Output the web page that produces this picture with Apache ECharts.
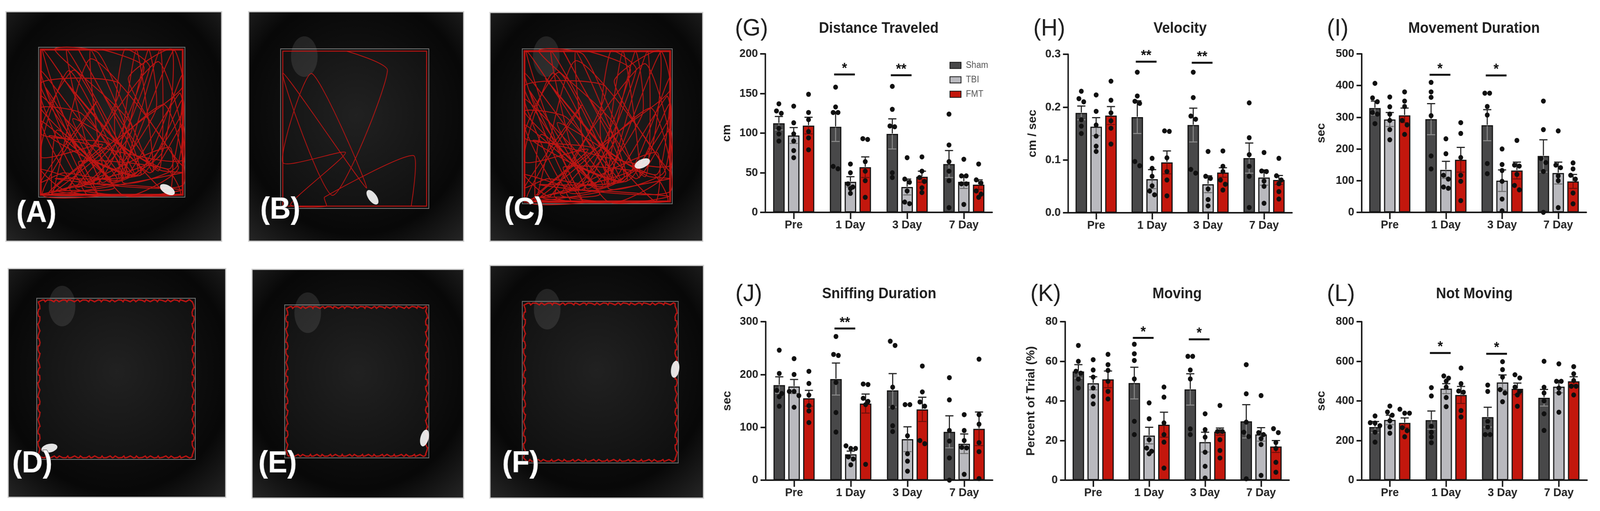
<!DOCTYPE html>
<html>
<head>
<meta charset="utf-8">
<script src="https://cdn.jsdelivr.net/npm/echarts@6.0.0/dist/echarts.min.js"></script>
<style>
  html, body { margin: 0; padding: 0; background: #fff; overflow: hidden; }
  #chart { width: 4317px; height: 1309px; transform-origin: 0 0; }
</style>
</head>
<body>
<div id="chart"></div>
<script>
const categories = ['Pre', '1 Day', '3 Day', '7 Day'];
const groupNames = ['Sham', 'TBI', 'FMT'];

// (G) Distance Traveled, cm. rows = Sham, TBI, FMT
const gMean = [[112.5, 108, 99, 61], [97, 38.5, 32, 38.6], [109.5, 57, 45, 35]];
const gSem = [[8.5, 18.5, 19, 17], [10, 6.5, 10, 8.4], [10.5, 13, 7, 6]];
const gDots = [
  [[137, 128, 125, 106, 99, 90], [158, 133, 126, 126, 58, 55], [159, 130, 109, 108, 50, 44], [124, 85, 64, 52, 40, 6]],
  [[134, 113, 99, 90, 78, 69], [61, 50, 36, 32, 30, 24], [69, 42, 38, 27, 13, 11], [67, 46, 46, 36, 36, 10]],
  [[149, 126, 117, 102, 94, 79], [93, 92, 64, 52, 40, 19], [70, 52, 44, 39, 31, 25], [61, 41, 37, 27, 23, 19]]
];
const gSig = [[1, 174, '*'], [2, 173, '**']];

// (H) Velocity, cm / sec
const hMean = [[0.189, 0.181, 0.166, 0.1035], [0.163, 0.0636, 0.054, 0.0666], [0.184, 0.0953, 0.0762, 0.062]];
const hSem = [[0.013, 0.031, 0.032, 0.0285], [0.017, 0.018, 0.016, 0.0144], [0.017, 0.0217, 0.009, 0.0085]];
const hDots = [
  [[0.230, 0.216, 0.210, 0.176, 0.164, 0.150], [0.266, 0.221, 0.211, 0.207, 0.097, 0.089], [0.266, 0.218, 0.183, 0.177, 0.082, 0.075], [0.208, 0.142, 0.110, 0.088, 0.069, 0.010]],
  [[0.223, 0.192, 0.166, 0.145, 0.126, 0.116], [0.103, 0.084, 0.069, 0.051, 0.041, 0.034], [0.116, 0.069, 0.065, 0.045, 0.025, 0.013], [0.114, 0.079, 0.078, 0.060, 0.050, 0.018]],
  [[0.249, 0.213, 0.189, 0.174, 0.160, 0.130], [0.155, 0.154, 0.104, 0.078, 0.062, 0.032], [0.117, 0.088, 0.078, 0.062, 0.054, 0.043], [0.103, 0.070, 0.062, 0.055, 0.040, 0.026]]
];
const hSig = [[1, 0.286, '**'], [2, 0.284, '**']];

// (I) Movement Duration, sec
const iMean = [[329, 294, 275, 178], [293, 134, 100, 124], [306, 166, 132, 97.6]];
const iSem = [[22, 49, 49, 51], [22, 27, 34, 34.5], [23, 39, 26.5, 22]];
const iDots = [
  [[407, 361, 349, 315, 310, 280], [410, 380, 363, 305, 178, 137], [376, 376, 334, 307, 154, 122], [351, 261, 170, 157, 129, 0]],
  [[364, 333, 310, 290, 261, 229], [232, 185, 117, 105, 80, 76], [200, 151, 132, 98, 42, 5], [257, 149, 141, 115, 100, 15]],
  [[380, 351, 334, 290, 276, 246], [283, 249, 173, 117, 98, 37], [227, 149, 146, 120, 85, 71], [156, 137, 117, 105, 61, 27]]
];
const iSig = [[1, 434, '*'], [2, 432, '*']];

// (J) Sniffing Duration, sec
const jMean = [[180, 191.4, 170, 91.5], [177.3, 49, 77.5, 68.9], [155, 145, 134, 97.2]];
const jSem = [[15.6, 30.3, 31.7, 30.3], [13.3, 6, 23.5, 18.5], [15, 18, 23, 31.8]];
const jDots = [
  [[246, 202, 170, 164, 158, 140], [272, 238, 236, 185, 128, 91], [263, 255, 176, 138, 103, 92], [194, 152, 94, 74, 42, 0]],
  [[230, 200, 168, 168, 160, 138], [65, 60, 60, 44, 40, 29], [143, 143, 84, 50, 36, 17], [124, 94, 75, 62, 61, 11]],
  [[206, 183, 161, 141, 131, 109], [182, 181, 155, 149, 143, 30], [216, 167, 148, 140, 75, 69], [229, 124, 106, 71, 54, 3]]
];
const jSig = [[1, 287, '**']];

// (K) Moving, percent of trial
const kMean = [[54.9, 49, 45.8, 29.7], [48.9, 22.5, 19.2, 23.1], [50.9, 28, 24.5, 17]];
const kSem = [[3.4, 8, 7.9, 8.4], [3.3, 4.2, 5, 3.4], [4.2, 6.3, 1.8, 3]];
const kDots = [
  [[68, 60, 55, 54, 51, 46.5], [68.6, 63.8, 60.4, 51.1, 29.7, 23], [62.5, 62.5, 55.6, 51.1, 25.9, 23], [58.3, 43.6, 29.3, 24.2, 22, 0.7]],
  [[60.8, 55.6, 52, 46.5, 42.3, 38.5], [39, 31, 20.4, 16.2, 14.6, 13.3], [33.5, 25.5, 21.7, 14.1, 7, 1.1], [42.7, 24, 23, 21, 18, 2.4]],
  [[63.5, 58.3, 55.4, 49.9, 44.8, 41], [47, 41.9, 28.9, 23, 19.2, 6.1], [37.7, 24.6, 24.6, 20.4, 15, 11.2], [26, 24, 19, 16, 9, 4]]
];
const kSig = [[1, 71.8, '*'], [2, 71.1, '*']];

// (L) Not Moving, sec
const lMean = [[268, 303, 318, 416], [304, 462, 493, 472], [289, 430, 461, 499]];
const lSem = [[28, 46, 50, 42], [24, 25, 38, 31], [25, 43, 29, 23]];
const lDots = [
  [[324, 290, 288, 275, 242, 192], [467, 425, 272, 242, 218, 189], [480, 448, 297, 268, 230, 230], [600, 469, 440, 400, 335, 251]],
  [[374, 344, 328, 300, 268, 237], [526, 515, 500, 470, 417, 371], [598, 558, 520, 457, 440, 396], [587, 499, 499, 465, 440, 343]],
  [[358, 338, 338, 265, 250, 219], [566, 487, 450, 444, 351, 319], [532, 516, 470, 448, 430, 373], [573, 537, 503, 474, 474, 430]]
];
const lSig = [[1, 642, '*'], [2, 638, '*']];

const FONT = '"Liberation Sans", Arial, Helvetica, sans-serif';
const AXIS = '#1c1c1c';
const FILLS = ['#484849', '#b9b9be', '#c3170d'];
const LOW_ERR = ['#8e8e8e', '#6c6c6c', '#6e0f0a'];
const PAGE_W = 4317;
const PAGE_H = 1309;
const GRID_H = 406;
const BAR_W = 31;
const BAR_STEP = 40;
const CAP = 11;
const DOT_R = 6.5;

const panels = [
  { tag: '(G)', title: 'Distance Traveled', yName: 'cm', max: 200, interval: 50, left: 2065, top: 138, width: 612, nameGap: 88, mean: gMean, sem: gSem, dots: gDots, sig: gSig },
  { tag: '(H)', title: 'Velocity', yName: 'cm / sec', max: 0.3, interval: 0.1, left: 2882, top: 139, width: 604, nameGap: 80, digits: 1, mean: hMean, sem: hSem, dots: hDots, sig: hSig },
  { tag: '(I)', title: 'Movement Duration', yName: 'sec', max: 500, interval: 100, left: 3674, top: 138, width: 606, nameGap: 93, mean: iMean, sem: iSem, dots: iDots, sig: iSig },
  { tag: '(J)', title: 'Sniffing Duration', yName: 'sec', max: 300, interval: 100, left: 2066, top: 824, width: 612, nameGap: 88, mean: jMean, sem: jSem, dots: jDots, sig: jSig },
  { tag: '(K)', title: 'Moving', yName: 'Percent of Trial (%)', max: 80, interval: 20, left: 2874, top: 824, width: 604, nameGap: 76, mean: kMean, sem: kSem, dots: kDots, sig: kSig },
  { tag: '(L)', title: 'Not Moving', yName: 'sec', max: 800, interval: 200, left: 3674, top: 824, width: 608, nameGap: 93, mean: lMean, sem: lSem, dots: lDots, sig: lSig }
];

// photo panels on the left (open field snapshots)
const photoLayout = [
  { label: '(A)', x: 16, y: 30, w: 582, h: 588, inner: [104, 121, 395, 384], track: 'dense', lx: 44, ly: 547, rat: [0.88, 0.95, -0.5] },
  { label: '(B)', x: 671, y: 30, w: 580, h: 588, inner: [757, 125, 400, 409], track: 'sparse', lx: 702, ly: 538, rat: [0.62, 0.93, -0.9] },
  { label: '(C)', x: 1322, y: 32, w: 574, h: 586, inner: [1409, 125, 405, 397], track: 'dense', lx: 1360, ly: 538, rat: [0.8, 0.74, 0.4] },
  { label: '(D)', x: 22, y: 688, w: 587, h: 586, inner: [99, 764, 428, 413], track: 'edge', lx: 33, ly: 1188, rat: [0.08, 0.93, 0.2] },
  { label: '(E)', x: 680, y: 690, w: 571, h: 586, inner: [768, 781, 389, 392], track: 'edge', lx: 697, ly: 1188, rat: [0.97, 0.87, 1.3] },
  { label: '(F)', x: 1322, y: 680, w: 576, h: 596, inner: [1409, 772, 421, 414], track: 'edge', lx: 1355, ly: 1188, rat: [0.98, 0.42, 1.4] }
];

// the window may be smaller than the figure: fit it
const box = document.getElementById('chart');
box.style.transform = 'scale(' + (window.innerWidth / PAGE_W) + ',' + (window.innerHeight / PAGE_H) + ')';

// spread dots sideways when they would overlap (GraphPad-like)
function swarm(values, pxPerUnit) {
  const order = values.map((v, i) => ({ v, i })).sort((a, b) => b.v - a.v);
  const offs = new Array(values.length).fill(0);
  let row = [];
  const flush = () => {
    row.forEach((o, k) => { offs[o.i] = (k - (row.length - 1) / 2) * 13; });
    row = [];
  };
  order.forEach(o => {
    if (row.length && (row[0].v - o.v) * pxPerUnit >= 12) flush();
    row.push(o);
  });
  flush();
  return offs;
}

function perimeterPoint(r, t) {
  const [x, y, w, h] = r;
  let d = (((t % 1) + 1) % 1) * 2 * (w + h);
  if (d < w) return [x + d, y];
  d -= w;
  if (d < h) return [x + w, y + d];
  d -= h;
  if (d < w) return [x + w - d, y + h];
  d -= w;
  return [x, y + h - d];
}

function photoElements(p) {
  const [ix, iy, iw, ih] = p.inner;
  const els = [];
  els.push({
    type: 'rect', shape: { x: p.x, y: p.y, width: p.w, height: p.h },
    style: { fill: new echarts.graphic.RadialGradient(0.5, 0.45, 0.75, [
      { offset: 0, color: '#1a1a1a' }, { offset: 0.7, color: '#080808' }, { offset: 1, color: '#262626' }
    ]), stroke: '#cfcfcf', lineWidth: 3 }
  });
  if (p.label !== '(A)') {
    els.push({
      type: 'circle', shape: { cx: 0, cy: 0, r: 40 }, x: ix + iw * 0.16, y: iy + 20, scaleX: 0.9, scaleY: 1.3,
      style: { fill: 'rgba(255,255,255,0.10)' }
    });
  }
  els.push({
    type: 'rect', shape: { x: ix, y: iy, width: iw, height: ih },
    style: { fill: 'rgba(255,255,255,0.03)', stroke: 'rgba(200,200,200,0.55)', lineWidth: 2 }
  });
  const inset = [ix + 6, iy + 6, iw - 12, ih - 12];
  const red = 'rgba(210,20,18,0.88)';
  if (p.track === 'dense' || p.track === 'sparse') {
    // criss-cross path through the arena, mostly touching the walls
    const n = p.track === 'dense' ? 110 : 12;
    const pts = [];
    for (let k = 0; k <= n; k++) {
      const u = (k * 0.618034 + 0.11) % 1;
      const v = (k * 0.754878 + 0.37) % 1;
      if (k % 3 === 0) {
        pts.push(perimeterPoint(inset, u));
      } else {
        pts.push([inset[0] + inset[2] * u, inset[1] + inset[3] * (k % 2 ? v : 1 - u * 0.2)]);
      }
    }
    els.push({ type: 'polyline', shape: { points: pts, smooth: 0.2 }, style: { stroke: red, lineWidth: p.track === 'dense' ? 2.4 : 2, fill: 'none' } });
    els.push({ type: 'rect', shape: { x: inset[0], y: inset[1], width: inset[2], height: inset[3] }, style: { stroke: red, lineWidth: p.track === 'dense' ? 5 : 2.5, fill: 'none' } });
  } else {
    const pts = [];
    for (let k = 0; k <= 260; k++) {
      const q = perimeterPoint(inset, k / 260);
      pts.push([q[0] + 3 * Math.sin(k * 1.3), q[1] + 3 * Math.cos(k * 2.1)]);
    }
    els.push({ type: 'polyline', shape: { points: pts }, style: { stroke: red, lineWidth: 3.5, fill: 'none' } });
  }
  els.push({
    type: 'circle', shape: { cx: 0, cy: 0, r: 11 }, x: ix + iw * p.rat[0], y: iy + ih * p.rat[1],
    scaleX: 2, rotation: p.rat[2], style: { fill: 'rgba(245,245,245,0.92)' }
  });
  els.push({
    type: 'text', x: p.lx, y: p.ly,
    style: { text: p.label, font: 'bold 78px ' + FONT, fill: '#ffffff', stroke: '#2a2a2a', lineWidth: 2,
      textAlign: 'left', textVerticalAlign: 'middle', align: 'left', verticalAlign: 'middle' }
  });
  return els;
}

const graphics = [];
photoLayout.forEach(p => graphics.push(...photoElements(p)));
panels.forEach(p => {
  const titleY = p.top < 500 ? 74 : 754;
  graphics.push({
    type: 'text', x: p.tag === '(G)' || p.tag === '(J)' ? p.left - 82 : p.left - 94, y: titleY,
    style: { text: p.tag, font: '62px ' + FONT, fill: '#1e1e1e', textAlign: 'left', textVerticalAlign: 'middle', align: 'left', verticalAlign: 'middle' }
  });
  graphics.push({
    type: 'text', x: p.left + p.width / 2, y: titleY,
    style: { text: p.title, font: 'bold 38px ' + FONT, fill: '#1e1e1e', textAlign: 'center', textVerticalAlign: 'middle', align: 'center', verticalAlign: 'middle' }
  });
});

const series = [];
panels.forEach((p, pi) => {
  const pxPerUnit = GRID_H / p.max;
  groupNames.forEach((name, gi) => {
    series.push({
      name, type: 'bar', xAxisIndex: pi, yAxisIndex: pi, z: 2,
      barWidth: BAR_W, barGap: '29%',
      data: p.mean[gi],
      itemStyle: { color: FILLS[gi], borderColor: '#141414', borderWidth: 3 }
    });
  });
  groupNames.forEach((name, gi) => {
    series.push({
      type: 'custom', xAxisIndex: pi, yAxisIndex: pi, z: 4, silent: true,
      data: p.mean[gi].map((m, ci) => [ci, m, p.sem[gi][ci]]),
      renderItem(params, api) {
        const c = api.value(0), m = api.value(1), s = api.value(2);
        const mid = api.coord([c, m]);
        const top = api.coord([c, m + s]);
        const low = api.coord([c, Math.max(0, m - s)]);
        const x = mid[0] + (gi - 1) * BAR_STEP;
        const up = { stroke: '#262626', lineWidth: 3 };
        const dn = { stroke: LOW_ERR[gi], lineWidth: 2.5 };
        return {
          type: 'group', children: [
            { type: 'line', shape: { x1: x, y1: mid[1] - 1, x2: x, y2: top[1] }, style: up },
            { type: 'line', shape: { x1: x - CAP, y1: top[1], x2: x + CAP, y2: top[1] }, style: up },
            { type: 'line', shape: { x1: x, y1: mid[1] + 2, x2: x, y2: low[1] }, style: dn },
            { type: 'line', shape: { x1: x - CAP, y1: low[1], x2: x + CAP, y2: low[1] }, style: dn }
          ]
        };
      }
    });
  });
  groupNames.forEach((name, gi) => {
    const data = [];
    p.dots[gi].forEach((vals, ci) => {
      const offs = swarm(vals, pxPerUnit);
      vals.forEach((v, k) => data.push([ci, v, offs[k]]));
    });
    series.push({
      type: 'custom', xAxisIndex: pi, yAxisIndex: pi, z: 5, silent: true,
      data,
      renderItem(params, api) {
        const pt = api.coord([api.value(0), api.value(1)]);
        return {
          type: 'circle',
          shape: { cx: pt[0] + (gi - 1) * BAR_STEP + api.value(2), cy: pt[1], r: DOT_R },
          style: { fill: '#101010' }
        };
      }
    });
  });
  series.push({
    type: 'custom', xAxisIndex: pi, yAxisIndex: pi, z: 6, silent: true,
    data: p.sig.map(s => [s[0], s[1]]),
    renderItem(params, api) {
      const pt = api.coord([api.value(0), api.value(1)]);
      const x1 = pt[0] - 44, x2 = pt[0] + 12;
      return {
        type: 'group', children: [
          { type: 'line', shape: { x1, y1: pt[1], x2, y2: pt[1] }, style: { stroke: '#111', lineWidth: 5 } },
          { type: 'text', style: { text: p.sig[params.dataIndex][2], x: (x1 + x2) / 2, y: pt[1] + 4,
            font: 'bold 36px ' + FONT, fill: '#111', textAlign: 'center', textVerticalAlign: 'bottom', align: 'center', verticalAlign: 'bottom' } }
        ]
      };
    }
  });
});

const option = {
  animation: false,
  backgroundColor: '#ffffff',
  textStyle: { fontFamily: FONT },
  grid: panels.map(p => ({ left: p.left, top: p.top, width: p.width, height: GRID_H, containLabel: false, outerBoundsMode: 'none' })),
  xAxis: panels.map((p, i) => ({
    type: 'category', gridIndex: i, data: categories,
    axisLine: { show: true, lineStyle: { color: AXIS, width: 4 } },
    axisTick: { show: true, alignWithLabel: true, length: 17, lineStyle: { color: AXIS, width: 4 } },
    axisLabel: { color: '#222', fontSize: 30, fontWeight: 'bold', margin: 18, fontFamily: FONT },
    splitLine: { show: false }
  })),
  yAxis: panels.map((p, i) => ({
    type: 'value', gridIndex: i, min: 0, max: p.max, interval: p.interval,
    name: p.yName, nameLocation: 'middle', nameGap: p.nameGap,
    nameTextStyle: { color: '#222', fontSize: 31, fontWeight: 'bold', fontFamily: FONT },
    axisLine: { show: true, lineStyle: { color: AXIS, width: 4 } },
    axisTick: { show: true, length: 14, lineStyle: { color: AXIS, width: 4 } },
    axisLabel: {
      color: '#222', fontSize: 30, fontWeight: 'bold', margin: 20, fontFamily: FONT,
      formatter: v => p.digits ? v.toFixed(p.digits) : String(v)
    },
    splitLine: { show: false }
  })),
  legend: {
    data: groupNames, selectedMode: false, orient: 'vertical',
    left: 2557, top: 151, icon: 'rect', itemWidth: 30, itemHeight: 16, itemGap: 14,
    textStyle: { fontSize: 23, color: '#555', fontFamily: FONT, padding: [0, 0, 0, 8] }
  },
  graphic: graphics,
  series
};

const myChart = echarts.init(box, null, { width: PAGE_W, height: PAGE_H });
myChart.setOption(option);
</script>
</body>
</html>
